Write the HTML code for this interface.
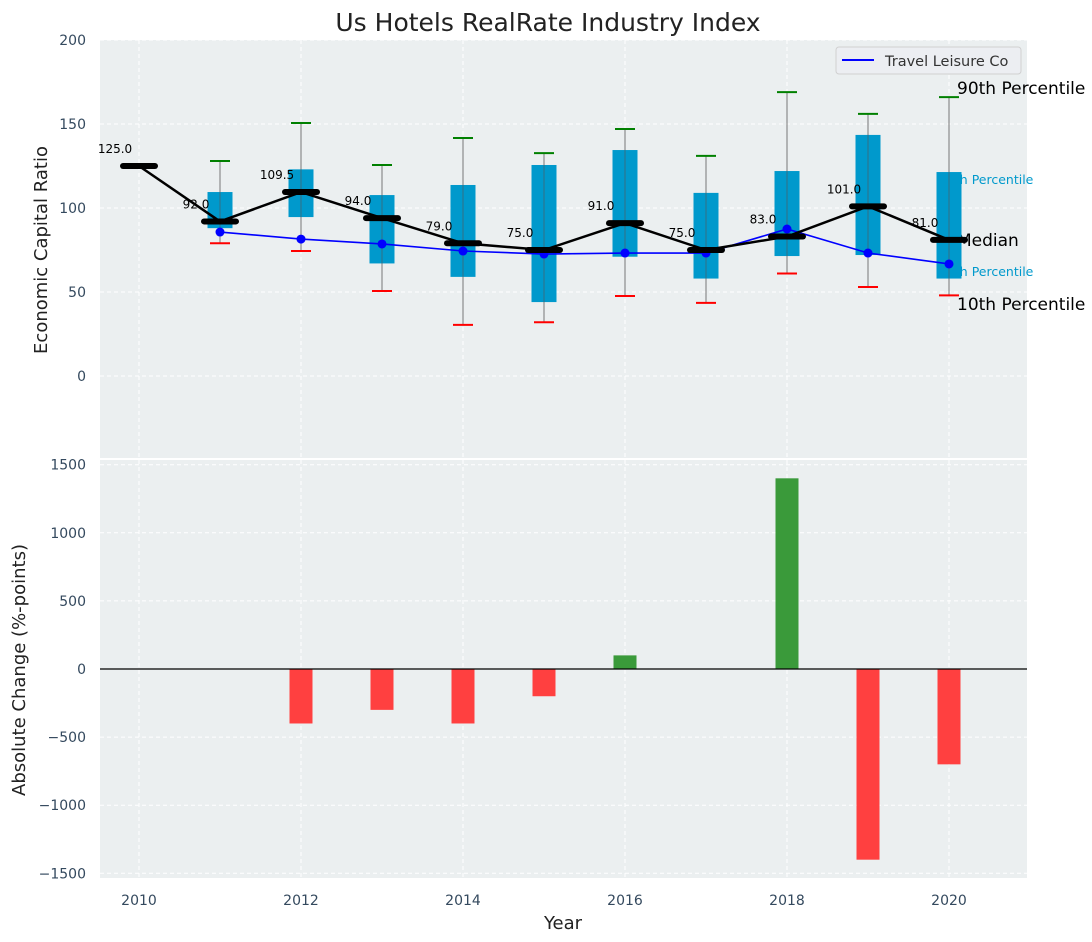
<!DOCTYPE html>
<html><head><meta charset="utf-8"><style>
body{margin:0;background:#fff;}
svg{display:block;font-family:"DejaVu Sans","Liberation Sans",sans-serif;}
</style></head><body>
<svg id="c" width="1092" height="942"></svg>
<script>
const years=[2010,2011,2012,2013,2014,2015,2016,2017,2018,2019,2020];
const medians=[125,92,109.5,94,79,75,91,75,83,101,81];
const q75=[null,109.5,123,107.7,113.7,125.6,134.5,109,122,143.5,121.4];
const q25=[null,88,94.6,67,59,44,71,58,71.4,72,58];
const p90=[null,128,150.6,125.6,141.7,132.7,147,131,169,156,166];
const p10=[null,79,74.4,50.6,30.4,32,47.6,43.5,61,53,48];
const company=[null,85.7,81.5,78.6,74.4,72.6,73.2,73.2,87.5,73.2,66.7];
const changes=[null,null,-400,-300,-400,-200,100,0,1400,-1400,-700];
const topTicks=[0,50,100,150,200];
const botTicks=[-1500,-1000,-500,0,500,1000,1500];
const xTicks=[2010,2012,2014,2016,2018,2020];

const NS='http://www.w3.org/2000/svg';
const svg=document.getElementById('c');
function mk(tag,attrs,parent){const e=document.createElementNS(NS,tag);for(const k in attrs)e.setAttribute(k,attrs[k]);(parent||svg).appendChild(e);return e;}
const L=100,R=1027;
const x=v=>139+(v-2010)*81;
const yT=v=>376-v*1.68;
const yB=v=>669-v*0.1362;

let e=mk('rect',{x:L,y:40,width:R-L,height:418,fill:'#ebeff0'});

e=mk('rect',{x:L,y:460,width:R-L,height:418,fill:'#ebeff0'});


const tickStyle={fill:'#34495e','font-size':14};
topTicks.forEach(t=>{
  const g=mk('line',{x1:L,x2:R,y1:yT(t),y2:yT(t),stroke:'#fff','stroke-dasharray':'4,3','stroke-width':1});
  
  const tx=mk('text',Object.assign({x:86,y:yT(t)+5,'text-anchor':'end'},tickStyle));tx.textContent=t;
  
});
botTicks.forEach(t=>{
  const g=mk('line',{x1:L,x2:R,y1:yB(t),y2:yB(t),stroke:'#fff','stroke-dasharray':'4,3','stroke-width':1});
  
  const tx=mk('text',Object.assign({x:86,y:yB(t)+5,'text-anchor':'end'},tickStyle));tx.textContent=t===0?'0':(t<0?'\u2212'+(-t):t);
  
});
xTicks.forEach(t=>{
  [[40,458],[460,878]].forEach(([a,b])=>{
    const g=mk('line',{x1:x(t),x2:x(t),y1:a,y2:b,stroke:'#fff','stroke-dasharray':'4,3','stroke-width':1});
    
  });
  const tx=mk('text',Object.assign({x:x(t),y:905,'text-anchor':'middle'},tickStyle));tx.textContent=t;
  
});

const lastX=x(2020);
const side=[['90th Percentile',94,'#000',17],['75th Percentile',184,'#0099cc',12.5],['Median',246,'#000',17],['25th Percentile',276,'#0099cc',12.5],['10th Percentile',310,'#000',17]];
side.forEach(s=>{const t=mk('text',{x:lastX+(s[3]<15?-10:8),y:s[1],fill:s[2],'font-size':s[3]});t.textContent=s[0];
  });

years.forEach((yr,i)=>{
  if(q75[i]==null)return;
  const cx=x(yr);
  let w=mk('line',{x1:cx,x2:cx,y1:yT(p90[i]),y2:yT(p10[i]),stroke:'#777','stroke-width':1});
  
  let b=mk('rect',{x:cx-12.5,y:yT(q75[i]),width:25,height:yT(q25[i])-yT(q75[i]),fill:'#0099cc'});
  
  w=mk('line',{x1:cx,x2:cx,y1:yT(q75[i]),y2:yT(q25[i]),stroke:'#555','stroke-width':1,opacity:0.6});
  let c=mk('line',{x1:cx-10,x2:cx+10,y1:yT(p90[i]),y2:yT(p90[i]),stroke:'green','stroke-width':2});
  
  c=mk('line',{x1:cx-10,x2:cx+10,y1:yT(p10[i]),y2:yT(p10[i]),stroke:'red','stroke-width':2});
  
});

let pts=years.map((yr,i)=>company[i]==null?null:x(yr)+','+yT(company[i])).filter(Boolean).join(' ');
e=mk('polyline',{points:pts,fill:'none',stroke:'blue','stroke-width':1.6});

years.forEach((yr,i)=>{if(company[i]==null)return;
  const d=mk('circle',{cx:x(yr),cy:yT(company[i]),r:4.5,fill:'blue'});
  });

pts=years.map((yr,i)=>x(yr)+','+yT(medians[i])).join(' ');
e=mk('polyline',{points:pts,fill:'none',stroke:'#000','stroke-width':2.5});

years.forEach((yr,i)=>{
  const m=mk('line',{x1:x(yr)-16,x2:x(yr)+16,y1:yT(medians[i]),y2:yT(medians[i]),stroke:'#000','stroke-width':6,'stroke-linecap':'round'});
  
  const t=mk('text',{x:x(yr)-24,y:yT(medians[i])-13,'font-size':12,fill:'#000','text-anchor':'middle'});
  t.textContent=medians[i].toFixed(1);
  
});

e=mk('rect',{x:836,y:47,width:185,height:27,rx:3,fill:'#eceef2',stroke:'#d0d0d0'});

mk('line',{x1:842,x2:874,y1:60,y2:60,stroke:'blue','stroke-width':2});
e=mk('text',{x:885,y:66,'font-size':14.5,fill:'#333'});e.textContent='Travel Leisure Co';


years.forEach((yr,i)=>{
  if(changes[i]==null||changes[i]===0)return;
  const v=changes[i];
  const r=mk('rect',{x:x(yr)-11.5,y:Math.min(yB(v),yB(0)),width:23,height:Math.abs(yB(v)-yB(0)),fill:v>0?'#3a9a3a':'#ff4040'});
  
});
e=mk('line',{x1:L,x2:R,y1:yB(0),y2:yB(0),stroke:'#000','stroke-width':1.2});


e=mk('text',{x:548,y:31,'font-size':25,fill:'#222','text-anchor':'middle'});e.textContent='Us Hotels RealRate Industry Index';

e=mk('text',{x:563,y:929,'font-size':18,fill:'#222','text-anchor':'middle'});e.textContent='Year';

e=mk('text',{x:0,y:0,'font-size':18,fill:'#222','text-anchor':'middle',transform:'translate(47,250) rotate(-90)'});e.textContent='Economic Capital Ratio';

e=mk('text',{x:0,y:0,'font-size':18,fill:'#222','text-anchor':'middle',transform:'translate(25,670) rotate(-90)'});e.textContent='Absolute Change (%-points)';

</script>
</body></html>
